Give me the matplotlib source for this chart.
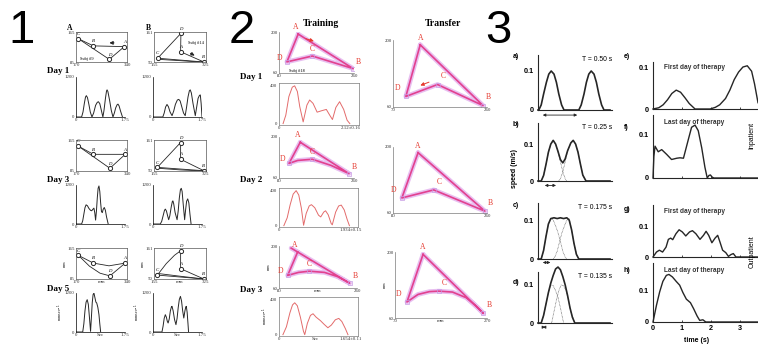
import matplotlib.pyplot as plt

W, H = 758, 350
SANS = ['Liberation Sans', 'DejaVu Sans']
SERIF = ['Liberation Serif', 'DejaVu Serif']
plt.rcParams['font.family'] = SERIF

INK = '#262626'
PINK = '#e2418f'
HALO = '#e4b4ee'
RED = '#e5392f'
SPEED_RED = '#e36b6b'
AXIS_GREY = '#7a7a7a'

# ---------------- panel 1: two subjects, days 1/3/5 ----------------
p1a_lim = ((170, 340), (85, 165))
p1b_lim = ((155, 325), (50, 161))
p1a_names = ['C', 'B', 'A', 'D']
p1b_names = ['C', 'D', 'A', 'B']

d1a_vx = [178, 228, 331, 281]
d1a_vy = [147, 128, 126, 92]
d1a_top_x = [178, 228, 331]
d1a_top_y = [147, 128, 126]
d1a_bot_x = [178, 281, 331]
d1a_bot_y = [147, 92, 126]

d1b_vx = [167, 243, 242, 318]
d1b_vy = [64, 156, 88, 50]
d1b_path_x = [167, 243, 242, 318, 167]
d1b_path_y = [64, 156, 88, 50, 64]
d1b_ret_x = [318, 240, 167]
d1b_ret_y = [49, 55, 60]

d3a_vx = [178, 228, 334, 283]
d3a_vy = [149, 128, 128, 92]
d3a_top_x = [178, 228, 334]
d3a_top_y = [149, 128, 128]
d3a_bot_x = [178, 283, 334]
d3a_bot_y = [149, 92, 128]

d3b_vx = [166, 242, 242, 318]
d3b_vy = [63, 152, 92, 51]
d3b_path_x = [166, 242, 242, 318, 166]
d3b_path_y = [63, 152, 92, 51, 63]
d3b_ret_x = [318, 240, 166]
d3b_ret_y = [50, 54, 60]

d5a_vx = [178, 228, 334, 283]
d5a_vy = [146, 126, 126, 93]
d5a_top_x = [178, 228, 280, 334]
d5a_top_y = [146, 126, 119, 126]
d5a_bot_x = [178, 215, 250, 283, 334]
d5a_bot_y = [146, 118, 100, 93, 126]

d5b_vx = [166, 242, 242, 318]
d5b_vy = [64, 151, 87, 50]
d5b_path_x = [166, 195, 222, 242, 242, 318, 166]
d5b_path_y = [64, 105, 135, 151, 87, 50, 64]
d5b_ret_x = [318, 240, 166]
d5b_ret_y = [50, 60, 70]

d1a_arrow = (306, 136, 272, 136)
d1b_arrow = (266, 87, 296, 69)

# speed profiles (mm/s vs s)
d1a_t = [0, .2, .25, .3, .34, .37, .41, .46, .51, .57, .63, .7, .76, .8, .85, .9, .96,
         1.0, 1.05, 1.09, 1.11, 1.14, 1.2, 1.26, 1.32, 1.37, 1.42, 1.47, 1.5, 1.54, 1.59, 1.66]
d1a_v = [0, 0, 150, 420, 600, 640, 580, 380, 150, 0, 120, 350, 440, 458, 400, 220, 0,
         200, 550, 780, 814, 760, 500, 200, 0, 120, 280, 370, 386, 330, 180, 0]
d1b_t = [0, .35, .4, .45, .5, .55, .61, .68, .74, .8, .87, .92, .97, 1.03, 1.09, 1.15,
         1.2, 1.25, 1.3, 1.33, 1.37, 1.43, 1.51, 1.56, 1.61, 1.66, 1.69, 1.72, 1.75]
d1b_v = [0, 0, 120, 300, 376, 310, 150, 40, 180, 380, 510, 529, 480, 300, 120, 40,
         300, 600, 790, 814, 720, 400, 40, 300, 560, 650, 661, 400, 0]
d3a_t = [0, .2, .24, .28, .32, .36, .41, .46, .52, .56, .6, .64, .67, .7, .73, .76, .79,
         .82, .85, .88, .91, .94, .97, 1.01, 1.05, 1.09, 1.15]
d3a_v = [0, 0, 100, 300, 500, 590, 560, 480, 420, 407, 450, 488, 350, 120, 400, 800, 1100,
         1170, 1000, 650, 380, 350, 450, 508, 420, 220, 0]
d3b_t = [0, .26, .31, .36, .41, .44, .48, .52, .56, .6, .65, .69, .71, .74, .79, .86, .9,
         .94, .98, 1.01, 1.04, 1.08, 1.13, 1.16, 1.2, 1.24, 1.28, 1.32, 1.36]
d3b_v = [0, 0, 80, 250, 420, 458, 400, 260, 132, 250, 520, 690, 712, 620, 350, 132, 400,
         800, 1060, 1098, 1000, 600, 132, 400, 700, 773, 650, 300, 0]
d5a_t = [0, .24, .28, .32, .36, .4, .44, .48, .52, .55, .58, .61, .64, .67, .71, .74, .78,
         .82, .85, .88]
d5a_v = [0, 0, 250, 650, 920, 995, 850, 450, 20, 450, 900, 1150, 1200, 1080, 920, 892, 760,
         533, 250, 0]
d5b_t = [0, .32, .36, .4, .44, .48, .51, .54, .58, .62, .66, .68, .72, .77, .82, .86, .9,
         .94, .98, 1.02, 1.06, 1.1, 1.14, 1.17, 1.19, 1.22, 1.25, 1.27]
d5b_v = [0, 0, 180, 420, 533, 450, 330, 277, 400, 650, 780, 790, 650, 380, 226, 420, 750,
         1000, 1097, 950, 650, 430, 650, 770, 790, 600, 250, 0]

# ---------------- panel 2: training / transfer ----------------
p2_names = ['A', 'B', 'C', 'D']
tr1_x = [126, 258, 160, 99, 126]
tr1_y = [193, 75, 118, 98, 193]
tr1_vx = [126, 258, 160, 99]
tr1_vy = [193, 75, 118, 98]
tr2_x = [131, 248, 205, 160, 125, 104, 131]
tr2_y = [182, 75, 103, 124, 120, 110, 182]
tr2_vx = [131, 248, 160, 104]
tr2_vy = [182, 75, 124, 110]
tr3_x = [108, 123, 243, 215, 185, 150, 125, 100, 123]
tr3_y = [193, 180, 76, 98, 112, 116, 112, 102, 180]
tr3_vx = [123, 243, 150, 100]
tr3_vy = [180, 76, 116, 102]

tf1_x = [125, 252, 160, 96, 125]
tf1_y = [190, 63, 107, 82, 190]
tf1_vx = [125, 252, 160, 96]
tf1_vy = [190, 63, 107, 82]
tf2_x = [128, 256, 158, 97, 128]
tf2_y = [188, 64, 109, 92, 188]
tf2_vx = [128, 256, 158, 97]
tf2_vy = [188, 64, 109, 92]
tf3_x = [131, 262, 250, 225, 195, 165, 145, 120, 96, 131]
tf3_y = [195, 70, 82, 103, 115, 117, 116, 110, 94, 195]
tf3_vx = [131, 262, 165, 96]
tf3_vy = [195, 70, 117, 94]

tr1_arrow = (138, 180, 170, 166)
tf1_arrow = (148, 114, 120, 103)

tr_sp1_t = [.12, .2, .29, .39, .46, .54, .61, .71, .82, .9, 1.0, 1.12, 1.25, 1.39, 1.49,
            1.57, 1.67, 1.78, 1.9, 2.0, 2.08]
tr_sp1_v = [0, 89, 286, 386, 400, 339, 179, 18, 196, 250, 214, 121, 136, 150, 89,
            43, 171, 232, 150, 36, 0]
tr_sp2_t = [.13, .22, .3, .38, .46, .53, .6, .66, .73, .81, .87, .96, 1.06, 1.12, 1.2,
            1.25, 1.32, 1.4, 1.43, 1.52, 1.6, 1.67, 1.75, 1.83, 1.89]
tr_sp2_v = [0, 90, 240, 360, 400, 350, 200, 5, 140, 225, 240, 205, 120, 100, 155,
            170, 125, 25, 10, 155, 225, 235, 180, 70, 0]
tr_sp3_t = [.09, .17, .25, .31, .36, .42, .49, .56, .59, .65, .72, .78, .85, .95, 1.03,
            1.12, 1.2, 1.29, 1.37, 1.44, 1.52, 1.58]
tr_sp3_v = [0, 90, 250, 340, 364, 330, 200, 40, 0, 130, 220, 239, 200, 160, 120,
            79, 110, 170, 186, 150, 70, 0]
tr_sp_labels = ['2.12±0.16', '1.934±0.15', '1.654±0.11']
tr_sp_tmax = [2.12, 1.934, 1.654]

# ---------------- panel 3: simulated (a-d) and patient (e-h) speed ----------------
a_t = [0.0, 0.01, 0.04, 0.07, 0.105, 0.135, 0.165, 0.2, 0.23, 0.26, 0.295, 0.325,
       0.51, 0.54, 0.575, 0.605, 0.635, 0.665, 0.7, 0.73, 0.76, 0.795, 0.825, 0.9]
a_v = [0, 0, .013, .041, .071, .092, .1, .092, .071, .041, .013, 0,
       0, .013, .041, .071, .092, .1, .092, .071, .041, .013, 0, 0]
b_t = [0, 0.04, 0.07, 0.1, 0.13, 0.16, 0.19, 0.22, 0.25, 0.28, 0.31, 0.34, 0.37, 0.41,
       0.44, 0.47, 0.5, 0.53, 0.56, 0.6, 0.9]
b_v = [0, 0, .015, .045, .078, .1, .11, .1, .08, .058, .049, .06, .082, .103,
       .11, .1, .078, .046, .016, 0, 0]
b1_t = [0.04, 0.07, 0.1, 0.13, 0.16, 0.19, 0.22, 0.25, 0.28, 0.31, 0.34, 0.36]
b1_v = [0, .015, .045, .078, .1, .11, .1, .08, .052, .025, .006, 0]
b2_t = [0.26, 0.28, 0.31, 0.34, 0.37, 0.41, 0.44, 0.47, 0.5, 0.53, 0.56, 0.6]
b2_v = [0, .006, .025, .052, .082, .103, .11, .1, .078, .046, .016, 0]
c_t = [0, 0.04, 0.07, 0.1, 0.13, 0.16, 0.2, 0.24, 0.28, 0.32, 0.36, 0.39, 0.42, 0.45,
       0.48, 0.51, 0.9]
c_v = [0, 0, .022, .058, .09, .104, .106, .104, .106, .104, .106, .1, .075, .04,
       .012, 0, 0]
c1_t = [0.04, 0.07, 0.1, 0.13, 0.16, 0.19, 0.22, 0.25, 0.28, 0.31, 0.34, 0.36]
c1_v = [0, .022, .058, .09, .104, .1, .085, .068, .045, .02, .005, 0]
c2_t = [0.19, 0.21, 0.24, 0.27, 0.3, 0.33, 0.36, 0.39, 0.42, 0.45, 0.48, 0.51]
c2_v = [0, .005, .02, .045, .068, .085, .1, .104, .075, .04, .012, 0]
d_t = [0, 0.04, 0.07, 0.1, 0.13, 0.16, 0.19, 0.22, 0.25, 0.28, 0.31, 0.34, 0.37, 0.4,
       0.43, 0.46, 0.9]
d_v = [0, 0, .02, .05, .08, .105, .125, .142, .147, .14, .122, .1, .072, .04,
       .015, 0, 0]
d1_t = [0.04, 0.07, 0.1, 0.13, 0.16, 0.19, 0.22, 0.25, 0.28, 0.32]
d1_v = [0, .02, .05, .08, .1, .098, .085, .068, .04, 0]
d2_t = [0.17, 0.2, 0.23, 0.26, 0.29, 0.32, 0.35, 0.38, 0.41, 0.46]
d2_v = [0, .03, .06, .085, .1, .098, .085, .06, .03, 0]
T_labels = ['T = 0.50 s', 'T = 0.25 s', 'T = 0.175 s', 'T = 0.135 s']
T_arrows = [(0.025, 0.525), (0.05, 0.26), (0.025, 0.19), (0.025, 0.125)]

e_t = [0, .2, .35, .5, .65, .8, .95, 1.1, 1.25, 1.45, 1.97, 2.15, 2.3, 2.5, 2.65, 2.8,
       2.95, 3.1, 3.25, 3.4, 3.5, 3.62]
e_v = [0, .003, .01, .022, .037, .045, .04, .027, .013, 0, 0, .004, .01, .025, .045, .07,
       .088, .1, .103, .09, .06, .015]
f_t = [0, .03, .07, .18, .3, .47, .64, .82, .93, 1.05, 1.22, 1.33, 1.45, 1.56, 1.68, 1.79,
       1.87, 1.93, 1.98, 2.04, 2.1, 3.62]
f_v = [0, .05, .074, .061, .066, .055, .043, .046, .047, .046, .09, .118, .123, .11, .07,
       .025, 0, .006, .007, .002, 0, 0]
g_t = [0, .12, .22, .33, .45, .53, .61, .68, .79, .9, 1.01, 1.13, 1.26, 1.36, 1.48, 1.62,
       1.74, 1.83, 1.92, 2.03, 2.14, 2.23, 2.31, 2.4, 2.51, 2.6, 2.69, 2.77, 2.86, 3.62]
g_v = [0, .016, .022, .016, .032, .057, .061, .056, .075, .088, .081, .068, .081, .085,
       .075, .057, .07, .083, .07, .046, .061, .07, .048, .022, .014, .002, .008, .011, 0, 0]
h_t = [0, .12, .23, .34, .46, .55, .67, .8, .92, 1.03, 1.15, 1.29, 1.4, 1.52, 1.61, 1.72,
       1.82, 3.62]
h_v = [0, .053, .095, .128, .147, .15, .142, .128, .116, .093, .072, .061, .042, .019,
       .005, .007, 0, 0]
time_ticks = [0, 1, 2, 3]


fig = plt.figure(figsize=(W / 100, H / 100), dpi=100)


def box(x0, y0, x1, y1):
    """Axes placed by pixel corners (top-left origin)."""
    return fig.add_axes([x0 / W, 1 - y1 / H, (x1 - x0) / W, (y1 - y0) / H])


def label(x, y, s, **kw):
    fig.text(x / W, 1 - y / H, s, **kw)


def tiny_ticks(ax, xt, xl, yt, yl, size=3.5):
    ax.set_xticks(xt)
    ax.set_xticklabels(xl)
    ax.set_yticks(yt)
    ax.set_yticklabels(yl)
    ax.tick_params(length=0, labelsize=size, pad=1, colors='#333')


# ---- panel 1 ----
def p1_traj(rect, lims, vx, vy, names, lines, arrow=None, subj=None, mm=False):
    ax = box(*rect)
    for lx, ly in lines:
        ax.plot(lx, ly, color=INK, lw=0.6)
    ax.plot(vx, vy, 'o', ms=3.0, mfc='white', mec=INK, mew=0.7)
    for x, y, n in zip(vx, vy, names):
        ax.annotate(n, (x, y), xytext=(0, 2.0), textcoords='offset points',
                    fontsize=3.4, style='italic', ha='center', va='bottom')
    if arrow:
        ax.annotate('', xy=arrow[2:], xytext=arrow[:2],
                    arrowprops=dict(arrowstyle='-|>', color=INK, lw=0.7, mutation_scale=5))
    if subj:
        ax.text(subj[0], subj[1], subj[2], fontsize=3.2)
    (x0, x1), (y0, y1) = lims
    ax.set_xlim(x0, x1)
    ax.set_ylim(y0, y1)
    if mm:
        tiny_ticks(ax, [x0, (x0 + x1) / 2, x1], [str(x0), 'mm', str(x1)], [y0, y1], [str(y0), str(y1)])
        ax.set_ylabel('mm', fontsize=3, labelpad=0)
    else:
        tiny_ticks(ax, [x0, x1], [str(x0), str(x1)], [y0, y1], [str(y0), str(y1)])
    for s in ax.spines.values():
        s.set_linewidth(0.5)
        s.set_color('#555')


def p1_speed(rect, t, v, sec=False):
    ax = box(*rect)
    ax.plot(t, v, color=INK, lw=0.7)
    ax.set_xlim(0, 1.75)
    ax.set_ylim(0, 1200)
    for s in ['top', 'right']:
        ax.spines[s].set_visible(False)
    for s in ['left', 'bottom']:
        ax.spines[s].set_linewidth(0.5)
    if sec:
        tiny_ticks(ax, [0, 0.875, 1.75], ['0', 'Sec', '1.75'], [0, 1200], ['0', '1200'])
        ax.set_ylabel('mm sec$^{-1}$', fontsize=2.8, labelpad=0)
    else:
        tiny_ticks(ax, [0, 1.75], ['0', '1.75'], [0, 1200], ['0', '1200'])


p1_traj((76, 32, 127, 62), p1a_lim, d1a_vx, d1a_vy, p1a_names,
        [(d1a_top_x, d1a_top_y), (d1a_bot_x, d1a_bot_y)], d1a_arrow, (182, 90, 'Subj #9'))
p1_traj((154, 32, 206, 62), p1b_lim, d1b_vx, d1b_vy, p1b_names,
        [(d1b_path_x, d1b_path_y), (d1b_ret_x, d1b_ret_y)], d1b_arrow, (266, 118, 'Subj #14'))
p1_speed((76, 77, 125, 117), d1a_t, d1a_v)
p1_speed((153, 77, 202, 117), d1b_t, d1b_v)

p1_traj((76, 140, 127, 171), p1a_lim, d3a_vx, d3a_vy, p1a_names,
        [(d3a_top_x, d3a_top_y), (d3a_bot_x, d3a_bot_y)])
p1_traj((154, 140, 206, 171), p1b_lim, d3b_vx, d3b_vy, p1b_names,
        [(d3b_path_x, d3b_path_y), (d3b_ret_x, d3b_ret_y)])
p1_speed((76, 185, 125, 224), d3a_t, d3a_v)
p1_speed((153, 185, 202, 224), d3b_t, d3b_v)

p1_traj((76, 248, 127, 279), p1a_lim, d5a_vx, d5a_vy, p1a_names,
        [(d5a_top_x, d5a_top_y), (d5a_bot_x, d5a_bot_y)], mm=True)
p1_traj((154, 248, 206, 279), p1b_lim, d5b_vx, d5b_vy, p1b_names,
        [(d5b_path_x, d5b_path_y), (d5b_ret_x, d5b_ret_y)], mm=True)
p1_speed((76, 293, 125, 332), d5a_t, d5a_v, sec=True)
p1_speed((153, 293, 202, 332), d5b_t, d5b_v, sec=True)

label(70, 28, 'A', fontsize=5.5, fontweight='bold', ha='center', va='center')
label(148, 28, 'B', fontsize=5.5, fontweight='bold', ha='center', va='center')
for yy, dd in zip([71, 180, 289], ['Day 1', 'Day 3', 'Day 5']):
    label(47, yy, dd, fontsize=6.5, fontweight='bold', va='center')


# ---- panel 2 ----
def p2_traj(rect, xlim, ylim, px, py, vx, vy, offs, arrow=None, subj=None, mm=False):
    ax = box(*rect)
    ax.plot(px, py, color=HALO, lw=3.4, alpha=0.85, solid_capstyle='round', solid_joinstyle='round')
    ax.plot(px, py, color=PINK, lw=1.2, solid_joinstyle='round')
    ax.plot(vx[1:], vy[1:], 's', ms=3, mfc='none', mec='#c79be4', mew=0.5)
    for x, y, n, (dx, dy) in zip(vx, vy, p2_names, offs):
        ax.annotate(n, (x, y), xytext=(dx, dy), textcoords='offset points', color=RED,
                    fontsize=5.5, ha='center', va='center')
    if arrow:
        ax.annotate('', xy=arrow[2:], xytext=arrow[:2],
                    arrowprops=dict(arrowstyle='-|>', color=RED, lw=0.7, mutation_scale=5))
    if subj:
        ax.text(subj[0], subj[1], subj[2], fontsize=3.2)
    ax.set_xlim(*xlim)
    ax.set_ylim(*ylim)
    for s in ['top', 'right']:
        ax.spines[s].set_visible(False)
    for s in ['left', 'bottom']:
        ax.spines[s].set_linewidth(0.5)
        ax.spines[s].set_color(AXIS_GREY)
    xl = [str(xlim[0]), str(xlim[1])]
    xt = list(xlim)
    if mm:
        xt = [xlim[0], (xlim[0] + xlim[1]) / 2, xlim[1]]
        xl = [xl[0], 'mm', xl[1]]
        ax.set_ylabel('mm', fontsize=3, labelpad=0)
    tiny_ticks(ax, xt, xl, list(ylim), [str(ylim[0]), str(ylim[1])])


def p2_speed(rect, t, v, tmax, tlabel, xmax, sec=False):
    ax = box(*rect)
    ax.plot(t, v, color=SPEED_RED, lw=0.7)
    ax.set_xlim(0, xmax)
    ax.set_ylim(-15, 430)
    for s in ax.spines.values():
        s.set_linewidth(0.5)
        s.set_color(AXIS_GREY)
    if sec:
        tiny_ticks(ax, [0, tmax / 2, tmax], ['0', 'Sec', tlabel], [0, 400], ['0', '400'])
        ax.set_ylabel('mm sec$^{-1}$', fontsize=2.8, labelpad=0)
    else:
        tiny_ticks(ax, [0, tmax], ['0', tlabel], [0, 400], ['0', '400'])


tr_offs = [(-2, 5), (4, 5), (0, 5), (-5, 3)]
tf_offs = [(0, 5), (4, 6), (4, 6), (-6, 6)]

p2_traj((279, 32, 354, 73), (80, 260), (60, 200), tr1_x, tr1_y, tr1_vx, tr1_vy,
        tr_offs, tr1_arrow, (105, 64, 'Subj #18'))
p2_speed((279, 83, 359, 125), tr_sp1_t, tr_sp1_v, tr_sp_tmax[0], tr_sp_labels[0], 2.35)
p2_traj((279, 137, 354, 178), (80, 260), (60, 200), tr2_x, tr2_y, tr2_vx, tr2_vy, tr_offs)
p2_speed((279, 188, 358, 227), tr_sp2_t, tr_sp2_v, tr_sp_tmax[1], tr_sp_labels[1], 2.12)
p2_traj((279, 246, 357, 288), (80, 260), (60, 200), tr3_x, tr3_y, tr3_vx, tr3_vy,
        tr_offs, mm=True)
p2_speed((279, 297, 358, 336), tr_sp3_t, tr_sp3_v, tr_sp_tmax[2], tr_sp_labels[2], 1.81, sec=True)

p2_traj((393, 40, 487, 107), (70, 260), (60, 200), tf1_x, tf1_y, tf1_vx, tf1_vy,
        tf_offs, tf1_arrow)
p2_traj((393, 147, 487, 213), (80, 260), (60, 200), tf2_x, tf2_y, tf2_vx, tf2_vy, tf_offs)
p2_traj((395, 252, 487, 318), (70, 270), (60, 200), tf3_x, tf3_y, tf3_vx, tf3_vy,
        tf_offs, mm=True)

label(321, 23, 'Training', fontsize=7, fontweight='bold', ha='center', va='center')
label(443, 23, 'Transfer', fontsize=7, fontweight='bold', ha='center', va='center')
for yy, dd in zip([77, 180, 290], ['Day 1', 'Day 2', 'Day 3']):
    label(240, yy, dd, fontsize=6.5, fontweight='bold', va='center')


# ---- panel 3 ----
def p3_left(rect, top, t, v, comps, tag, arrow, arrow_y):
    ax = box(*rect)
    for ct, cv in comps:
        ax.plot(ct, cv, color='#555', lw=0.5, ls=(0, (1, 1)), clip_on=False)
    ax.plot(t, v, color=INK, lw=1.2, clip_on=False)
    ax.set_xlim(0, 0.925)
    ax.set_ylim(0, top)
    for s in ['top', 'right']:
        ax.spines[s].set_visible(False)
    for s in ['left', 'bottom']:
        ax.spines[s].set_linewidth(0.8)
        ax.spines[s].set_color(INK)
    ax.set_xticks([])
    ax.set_yticks([0, 0.1])
    ax.set_yticklabels(['0', '0.1'], family=SANS, fontweight='bold')
    ax.tick_params(axis='y', length=0, labelsize=5.2, pad=3)
    ax.annotate('', xy=(arrow[1], arrow_y), xytext=(arrow[0], arrow_y),
                arrowprops=dict(arrowstyle='<|-|>', color=INK, lw=0.6, mutation_scale=4),
                annotation_clip=False)
    ax.text(1.0, 0.92, tag, transform=ax.transAxes, ha='right', va='center',
            family=SANS, fontsize=4.9)


def p3_right(rect, top, t, v, title, bottom=False):
    ax = box(*rect)
    ax.plot(t, v, color=INK, lw=1.0, clip_on=False)
    ax.set_xlim(0, 3.62)
    ax.set_ylim(0, top)
    for s in ['top', 'right']:
        ax.spines[s].set_visible(False)
    for s in ['left', 'bottom']:
        ax.spines[s].set_linewidth(0.8)
        ax.spines[s].set_color(INK)
    ax.set_yticks([0, 0.1])
    ax.set_yticklabels(['0', '0.1'], family=SANS, fontweight='bold')
    ax.tick_params(axis='y', length=0, labelsize=5.2, pad=3)
    ax.set_xticks(time_ticks)
    ax.tick_params(axis='x', direction='in', length=1.5, width=0.5, labelsize=5.2, pad=2)
    if bottom:
        ax.set_xticklabels([str(k) for k in time_ticks], family=SANS, fontweight='bold')
    else:
        ax.set_xticklabels([])
    ax.text(0.1, 0.88, title, transform=ax.transAxes, va='center', family=SANS,
            fontsize=4.7, fontweight='bold', color='#333')


p3_left((538, 55, 612, 110), 0.141, a_t, a_v, [], T_labels[0], T_arrows[0], -0.013)
p3_left((538, 123, 612, 181), 0.157, b_t, b_v, [(b1_t, b1_v), (b2_t, b2_v)], T_labels[1], T_arrows[1], -0.012)
p3_left((538, 203, 612, 259), 0.144, c_t, c_v, [(c1_t, c1_v), (c2_t, c2_v)], T_labels[2], T_arrows[2], -0.009)
p3_left((538, 272, 612, 323), 0.134, d_t, d_v, [(d1_t, d1_v), (d2_t, d2_v)], T_labels[3], T_arrows[3], -0.011)

p3_right((653, 62, 758, 109), 0.112, e_t, e_v, 'First day of therapy')
p3_right((653, 115, 758, 178), 0.1465, f_t, f_v, 'Last day of therapy')
p3_right((653, 205, 758, 257), 0.168, g_t, g_v, 'First day of therapy')
p3_right((653, 263, 758, 322), 0.186, h_t, h_v, 'Last day of therapy', bottom=True)

for (xx, yy), tg in zip([(513, 57), (513, 124), (513, 206), (513, 283),
                         (624, 57), (624, 128), (624, 209), (624, 271)],
                        ['a)', 'b)', 'c)', 'd)', 'e)', 'f)', 'g)', 'h)']):
    label(xx, yy, tg, family=SANS, fontsize=5, fontweight='bold', va='center')

label(514, 168, 'speed (m/s)', family=SANS, fontsize=5, fontweight='bold', rotation=90,
      ha='center', va='center')
label(697, 340, 'time (s)', family=SANS, fontsize=5, fontweight='bold', ha='center', va='center')
label(752, 135, 'Inpatient', family=SANS, fontsize=5, rotation=90, ha='center', va='center')
label(752, 252, 'Outpatient', family=SANS, fontsize=5, rotation=90, ha='center', va='center')

# big panel numbers
for xx, num in zip([8, 229, 485], ['1', '2', '3']):
    label(xx, 43, num, family=SANS, fontsize=34, va='baseline')

fig.savefig('out.png', dpi=100)
